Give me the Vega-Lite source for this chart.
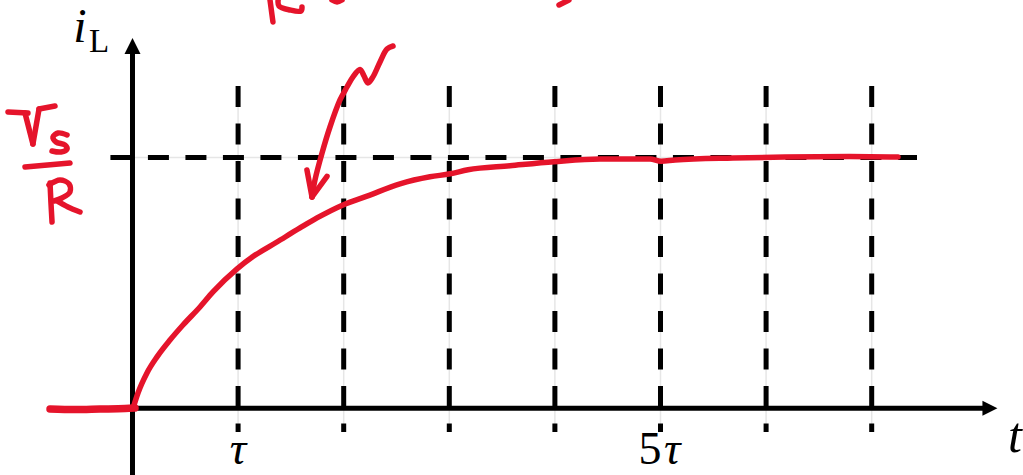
{
  "$schema": "https://vega.github.io/schema/vega-lite/v6.json",
  "width": 1023,
  "height": 475,
  "autosize": {"type": "none"},
  "padding": 0,
  "config": {"view": {"stroke": null}},
  "datasets": {
    "grid": [
      {"x": 1, "y": 1.2851, "y2": -0.0945},
      {"x": 2, "y": 1.2851, "y2": -0.0945},
      {"x": 3, "y": 1.2851, "y2": -0.0945},
      {"x": 4, "y": 1.2851, "y2": -0.0945},
      {"x": 5, "y": 1.2851, "y2": -0.0945},
      {"x": 6, "y": 1.2851, "y2": -0.0945},
      {"x": 7, "y": 1.2851, "y2": -0.0945}
    ],
    "hline": [{"x": -0.209, "x2": 7.429, "y": 1}],
    "yaxis": [{"x": 0, "y": -0.266, "y2": 1.4446}],
    "xaxis": [{"x": -0.02, "x2": 8.12, "y": 0}],
    "uparrow": [{"x": 0, "y": 1.4446}],
    "rightarrow": [{"x": 8.12, "y": 0}],
    "flat": [
      {"i": 0, "x": -0.781, "y": -0.003},
      {"i": 1, "x": -0.545, "y": -0.005},
      {"i": 2, "x": -0.308, "y": -0.003},
      {"i": 3, "x": -0.071, "y": -0.001},
      {"i": 4, "x": 0.024, "y": 0.001}
    ],
    "curve": [
      {"i": 0, "x": 0.005, "y": 0},
      {"i": 1, "x": 0.052, "y": 0.061},
      {"i": 2, "x": 0.137, "y": 0.141},
      {"i": 3, "x": 0.232, "y": 0.205},
      {"i": 4, "x": 0.355, "y": 0.272},
      {"i": 5, "x": 0.478, "y": 0.332},
      {"i": 6, "x": 0.639, "y": 0.404},
      {"i": 7, "x": 0.762, "y": 0.464},
      {"i": 8, "x": 0.99, "y": 0.556},
      {"i": 9, "x": 1.141, "y": 0.605},
      {"i": 10, "x": 1.368, "y": 0.663},
      {"i": 11, "x": 1.586, "y": 0.719},
      {"i": 12, "x": 1.747, "y": 0.759},
      {"i": 13, "x": 1.993, "y": 0.811},
      {"i": 14, "x": 2.221, "y": 0.846},
      {"i": 15, "x": 2.533, "y": 0.895},
      {"i": 16, "x": 2.817, "y": 0.923},
      {"i": 17, "x": 3.007, "y": 0.935},
      {"i": 18, "x": 3.177, "y": 0.951},
      {"i": 19, "x": 3.575, "y": 0.967},
      {"i": 20, "x": 3.991, "y": 0.983},
      {"i": 21, "x": 4.427, "y": 0.994},
      {"i": 22, "x": 4.901, "y": 0.994},
      {"i": 23, "x": 5.005, "y": 0.985},
      {"i": 24, "x": 5.137, "y": 0.99},
      {"i": 25, "x": 5.686, "y": 0.998},
      {"i": 26, "x": 6.178, "y": 1.002},
      {"i": 27, "x": 6.79, "y": 1.004},
      {"i": 28, "x": 7.249, "y": 1.002}
    ],
    "strokes": [
      {"s": "arrow", "i": 0, "x": 2.467, "y": 1.4446},
      {"s": "arrow", "i": 1, "x": 2.41, "y": 1.4326},
      {"s": "arrow", "i": 2, "x": 2.344, "y": 1.3812},
      {"s": "arrow", "i": 3, "x": 2.277, "y": 1.3214},
      {"s": "arrow", "i": 4, "x": 2.23, "y": 1.2974},
      {"s": "arrow", "i": 5, "x": 2.192, "y": 1.3254},
      {"s": "arrow", "i": 6, "x": 2.154, "y": 1.3509},
      {"s": "arrow", "i": 7, "x": 2.088, "y": 1.3214},
      {"s": "arrow", "i": 8, "x": 2.031, "y": 1.2811},
      {"s": "arrow", "i": 9, "x": 1.965, "y": 1.2293},
      {"s": "arrow", "i": 10, "x": 1.87, "y": 1.1216},
      {"s": "arrow", "i": 11, "x": 1.795, "y": 1.018},
      {"s": "arrow", "i": 12, "x": 1.728, "y": 0.9103},
      {"s": "arrow", "i": 13, "x": 1.7, "y": 0.8425},
      {"s": "ah1", "i": 0, "x": 1.652, "y": 0.9502},
      {"s": "ah1", "i": 1, "x": 1.7, "y": 0.8425},
      {"s": "ah2", "i": 0, "x": 1.7, "y": 0.8425},
      {"s": "ah2", "i": 1, "x": 1.842, "y": 0.925},
      {"s": "Vserif", "i": 0, "x": -1.179, "y": 1.1814},
      {"s": "Vserif", "i": 1, "x": -0.99, "y": 1.1774},
      {"s": "Vleft", "i": 0, "x": -1.018, "y": 1.1774},
      {"s": "Vleft", "i": 1, "x": -0.943, "y": 1.0538},
      {"s": "Vright", "i": 0, "x": -0.943, "y": 1.0538},
      {"s": "Vright", "i": 1, "x": -0.885, "y": 1.1934},
      {"s": "Vtop", "i": 0, "x": -0.885, "y": 1.1934},
      {"s": "Vtop", "i": 1, "x": -0.734, "y": 1.2054},
      {"s": "S", "i": 0, "x": -0.62, "y": 1.0897},
      {"s": "S", "i": 1, "x": -0.705, "y": 1.0977},
      {"s": "S", "i": 2, "x": -0.753, "y": 1.0817},
      {"s": "S", "i": 3, "x": -0.724, "y": 1.0618},
      {"s": "S", "i": 4, "x": -0.639, "y": 1.0499},
      {"s": "S", "i": 5, "x": -0.62, "y": 1.0335},
      {"s": "S", "i": 6, "x": -0.677, "y": 1.0219},
      {"s": "S", "i": 7, "x": -0.762, "y": 1.0259},
      {"s": "bar", "i": 0, "x": -1.018, "y": 0.9621},
      {"s": "bar", "i": 1, "x": -0.592, "y": 0.9781},
      {"s": "Rstem", "i": 0, "x": -0.781, "y": 0.8983},
      {"s": "Rstem", "i": 1, "x": -0.772, "y": 0.8186},
      {"s": "Rstem", "i": 2, "x": -0.762, "y": 0.7428},
      {"s": "Rbowl", "i": 0, "x": -0.791, "y": 0.8904},
      {"s": "Rbowl", "i": 1, "x": -0.687, "y": 0.9103},
      {"s": "Rbowl", "i": 2, "x": -0.601, "y": 0.8944},
      {"s": "Rbowl", "i": 3, "x": -0.592, "y": 0.8624},
      {"s": "Rbowl", "i": 4, "x": -0.668, "y": 0.8385},
      {"s": "Rbowl", "i": 5, "x": -0.743, "y": 0.8266},
      {"s": "Rleg", "i": 0, "x": -0.715, "y": 0.8266},
      {"s": "Rleg", "i": 1, "x": -0.611, "y": 0.8026},
      {"s": "Rleg", "i": 2, "x": -0.497, "y": 0.7827},
      {"s": "topRstem", "i": 0, "x": 1.302, "y": 1.628},
      {"s": "topRstem", "i": 1, "x": 1.33, "y": 1.5403},
      {"s": "topRleg", "i": 0, "x": 1.379, "y": 1.628},
      {"s": "topRleg", "i": 1, "x": 1.387, "y": 1.6041},
      {"s": "topRleg", "i": 2, "x": 1.491, "y": 1.5881},
      {"s": "topRleg", "i": 3, "x": 1.596, "y": 1.5841},
      {"s": "topRleg", "i": 4, "x": 1.605, "y": 1.6001},
      {"s": "topArc", "i": 0, "x": 1.889, "y": 1.628},
      {"s": "topArc", "i": 1, "x": 1.937, "y": 1.62},
      {"s": "topArc", "i": 2, "x": 1.984, "y": 1.628},
      {"s": "comma", "i": 0, "x": 4.039, "y": 1.6081},
      {"s": "comma", "i": 1, "x": 4.133, "y": 1.628}
    ],
    "italicBig": [
      {"x": 0.999, "y": -0.2221, "text": "τ"},
      {"x": 5.11, "y": -0.2221, "text": "τ"}
    ],
    "uprightBig": [
      {"x": 4.901, "y": -0.2221, "text": "5"}
    ],
    "tLabel": [{"x": 8.291, "y": -0.174, "text": "t"}],
    "iLabel": [{"x": -0.497, "y": 1.4605, "text": "i"}],
    "LLabel": [{"x": -0.317, "y": 1.421, "text": "L"}]
  },
  "encoding": {
    "x": {"field": "x", "type": "quantitative", "scale": {"domain": [-1.2547, 8.4328], "nice": false, "zero": false}, "axis": null},
    "y": {"field": "y", "type": "quantitative", "scale": {"domain": [-0.26595, 1.62799], "nice": false, "zero": false}, "axis": null}
  },
  "layer": [
    {
      "data": {"name": "grid"},
      "mark": {"type": "rule", "color": "#e6e6e6", "strokeWidth": 1.5},
      "encoding": {"y2": {"field": "y2"}}
    },
    {
      "data": {"name": "hline"},
      "mark": {"type": "rule", "color": "#e6e6e6", "strokeWidth": 1.5},
      "encoding": {"x2": {"field": "x2"}}
    },
    {
      "data": {"name": "grid"},
      "mark": {"type": "rule", "color": "#000000", "strokeWidth": 5, "strokeDash": [21, 16.5], "strokeCap": "butt"},
      "encoding": {"y2": {"field": "y2"}}
    },
    {
      "data": {"name": "hline"},
      "mark": {"type": "rule", "color": "#000000", "strokeWidth": 5, "strokeDash": [21, 16.5], "strokeCap": "butt"},
      "encoding": {"x2": {"field": "x2"}}
    },
    {
      "data": {"name": "yaxis"},
      "mark": {"type": "rule", "color": "#000000", "strokeWidth": 5, "strokeCap": "butt"},
      "encoding": {"y2": {"field": "y2"}}
    },
    {
      "data": {"name": "xaxis"},
      "mark": {"type": "rule", "color": "#000000", "strokeWidth": 5, "strokeCap": "butt"},
      "encoding": {"x2": {"field": "x2"}}
    },
    {
      "data": {"name": "uparrow"},
      "mark": {"type": "point", "shape": "M-1,1L0,-1L1,1Z", "filled": true, "color": "#000000", "opacity": 1, "size": 256, "strokeWidth": 0},
      "encoding": {}
    },
    {
      "data": {"name": "rightarrow"},
      "mark": {"type": "point", "shape": "M-1,-1L1,0L-1,1Z", "filled": true, "color": "#000000", "opacity": 1, "size": 225, "strokeWidth": 0},
      "encoding": {}
    },
    {
      "data": {"name": "flat"},
      "mark": {"type": "line", "color": "#e5142b", "strokeWidth": 7.5, "strokeCap": "round", "strokeJoin": "round", "interpolate": "monotone"},
      "encoding": {"order": {"field": "i", "type": "quantitative"}}
    },
    {
      "data": {"name": "curve"},
      "mark": {"type": "line", "color": "#e5142b", "strokeWidth": 5.5, "strokeCap": "round", "strokeJoin": "round", "interpolate": "monotone"},
      "encoding": {"order": {"field": "i", "type": "quantitative"}}
    },
    {
      "data": {"name": "strokes"},
      "mark": {"type": "line", "color": "#e5142b", "strokeWidth": 5.5, "strokeCap": "round", "strokeJoin": "round", "interpolate": "catmull-rom"},
      "encoding": {
        "detail": {"field": "s", "type": "nominal"},
        "order": {"field": "i", "type": "quantitative"}
      }
    },
    {
      "data": {"name": "italicBig"},
      "mark": {"type": "text", "font": "Liberation Serif", "fontStyle": "italic", "fontSize": 46, "align": "center", "baseline": "alphabetic", "color": "#000000"},
      "encoding": {"text": {"field": "text"}}
    },
    {
      "data": {"name": "uprightBig"},
      "mark": {"type": "text", "font": "Liberation Serif", "fontSize": 46, "align": "center", "baseline": "alphabetic", "color": "#000000"},
      "encoding": {"text": {"field": "text"}}
    },
    {
      "data": {"name": "tLabel"},
      "mark": {"type": "text", "font": "Liberation Serif", "fontStyle": "italic", "fontSize": 50, "align": "left", "baseline": "alphabetic", "color": "#000000"},
      "encoding": {"text": {"field": "text"}}
    },
    {
      "data": {"name": "iLabel"},
      "mark": {"type": "text", "font": "Liberation Serif", "fontStyle": "italic", "fontSize": 48, "align": "center", "baseline": "alphabetic", "color": "#000000"},
      "encoding": {"text": {"field": "text"}}
    },
    {
      "data": {"name": "LLabel"},
      "mark": {"type": "text", "font": "Liberation Serif", "fontSize": 33, "align": "center", "baseline": "alphabetic", "color": "#000000"},
      "encoding": {"text": {"field": "text"}}
    }
  ]
}
